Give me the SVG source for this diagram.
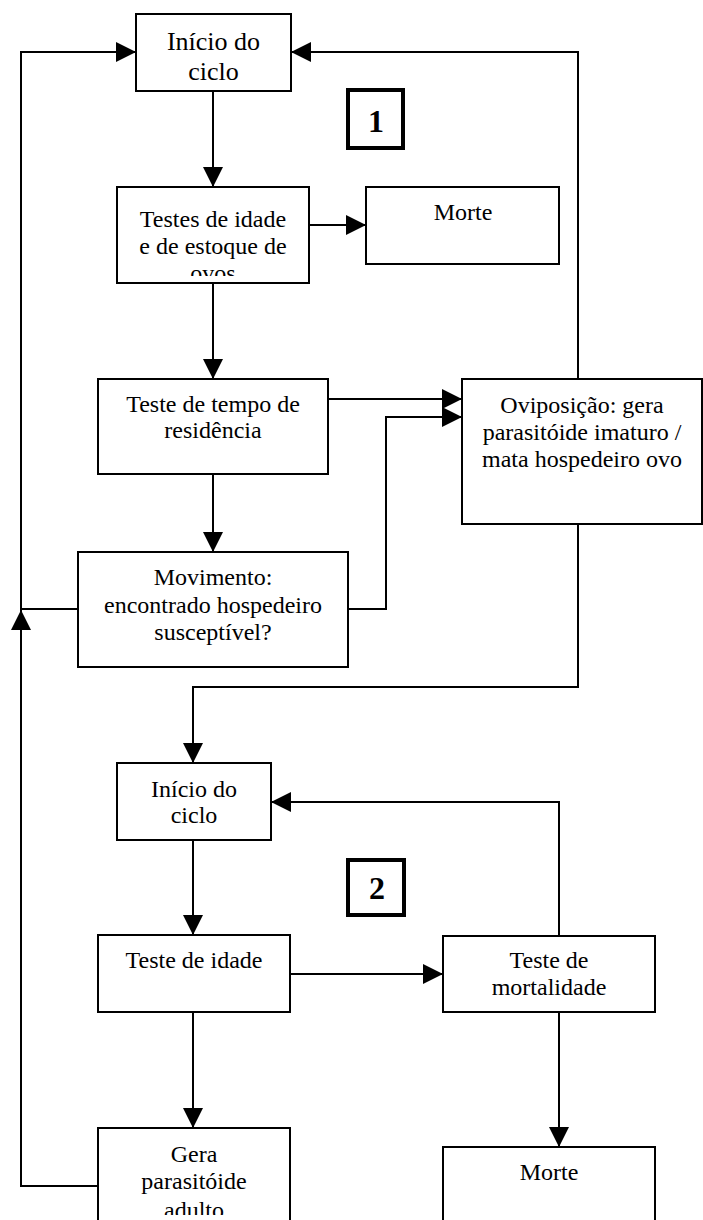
<svg xmlns="http://www.w3.org/2000/svg" width="703" height="1220" viewBox="0 0 703 1220">
<style>
.box{fill:#fff;stroke:#000;stroke-width:2}
.num{fill:#fff;stroke:#000;stroke-width:4}
.t{font-family:"Liberation Serif","Times New Roman",serif;font-size:24px;text-anchor:middle;fill:#000}
.tb{font-family:"Liberation Serif","Times New Roman",serif;font-size:32px;font-weight:bold;text-anchor:middle;fill:#000}
.c{fill:none;stroke:#000;stroke-width:2;marker-end:url(#ah)}
</style>
<defs>
<marker id="ah" markerWidth="20" markerHeight="20" refX="20" refY="10" orient="auto" markerUnits="userSpaceOnUse">
<path d="M0,0 L20,10 L0,20 z" fill="#000"/>
</marker>
<clipPath id="clipTestes"><rect x="117" y="187" width="192" height="89"/></clipPath>
<clipPath id="clipGera"><rect x="98" y="1128" width="192" height="87"/></clipPath>
</defs>
<g id="connectors">
<path class="c" d="M213,91 L213,187"/>
<path class="c" d="M309,225 L366,225"/>
<path class="c" d="M213,283 L213,379"/>
<path class="c" d="M213,474 L213,552"/>
<path class="c" d="M328,399 L462,399"/>
<path class="c" d="M348,609 L386,609 L386,417 L462,417"/>
<path class="c" d="M78,609 L21,609 L21,52 L136,52"/>
<path class="c" d="M578,379 L578,52 L291,52"/>
<path class="c" d="M578,524 L578,687 L193,687 L193,763"/>
<path class="c" d="M193,840 L193,935"/>
<path class="c" d="M290,974 L443,974"/>
<path class="c" d="M559,936 L559,802 L271,802"/>
<path class="c" d="M559,1012 L559,1147"/>
<path class="c" d="M193,1012 L193,1128"/>
<path class="c" d="M98,1186 L21,1186 L21,610"/>
</g>
<g id="inicio1">
<rect class="box" x="136" y="14" width="155" height="77"/>
<text class="t" x="213.5" y="50" style="font-size:26px">Início do</text>
<text class="t" x="213.5" y="80" style="font-size:26px">ciclo</text>
</g>
<g id="label1">
<rect class="num" x="348" y="90" width="55" height="58"/>
<text class="tb" x="376" y="132">1</text>
</g>
<g id="testes">
<rect class="box" x="117" y="187" width="192" height="96"/>
<g clip-path="url(#clipTestes)">
<text class="t" x="213" y="227">Testes de idade</text>
<text class="t" x="213" y="254">e de estoque de</text>
<text class="t" x="213" y="281">ovos</text>
</g>
</g>
<g id="morte1">
<rect class="box" x="366" y="187" width="193" height="77"/>
<text class="t" x="463" y="220">Morte</text>
</g>
<g id="tempo">
<rect class="box" x="98" y="379" width="230" height="95"/>
<text class="t" x="213" y="412">Teste de tempo de</text>
<text class="t" x="213" y="438">residência</text>
</g>
<g id="movimento">
<rect class="box" x="78" y="552" width="270" height="115"/>
<text class="t" x="213" y="585">Movimento:</text>
<text class="t" x="213" y="613">encontrado hospedeiro</text>
<text class="t" x="213" y="640">susceptível?</text>
</g>
<g id="oviposicao">
<rect class="box" x="462" y="379" width="240" height="145"/>
<text class="t" x="582" y="413">Oviposição: gera</text>
<text class="t" x="582" y="440">parasitóide imaturo /</text>
<text class="t" x="582" y="467">mata hospedeiro ovo</text>
</g>
<g id="inicio2">
<rect class="box" x="117" y="763" width="154" height="77"/>
<text class="t" x="194" y="797">Início do</text>
<text class="t" x="194" y="823">ciclo</text>
</g>
<g id="label2">
<rect class="num" x="348" y="860" width="56" height="55"/>
<text class="tb" x="377" y="899">2</text>
</g>
<g id="idade">
<rect class="box" x="98" y="935" width="192" height="77"/>
<text class="t" x="194" y="968">Teste de idade</text>
</g>
<g id="mortalidade">
<rect class="box" x="443" y="936" width="212" height="76"/>
<text class="t" x="549" y="968">Teste de</text>
<text class="t" x="549" y="995">mortalidade</text>
</g>
<g id="gera">
<rect class="box" x="98" y="1128" width="192" height="110"/>
<g clip-path="url(#clipGera)">
<text class="t" x="194" y="1162">Gera</text>
<text class="t" x="194" y="1189">parasitóide</text>
<text class="t" x="194" y="1218">adulto</text>
</g>
</g>
<g id="morte2">
<rect class="box" x="443" y="1147" width="212" height="90"/>
<text class="t" x="549" y="1180">Morte</text>
</g>
</svg>
